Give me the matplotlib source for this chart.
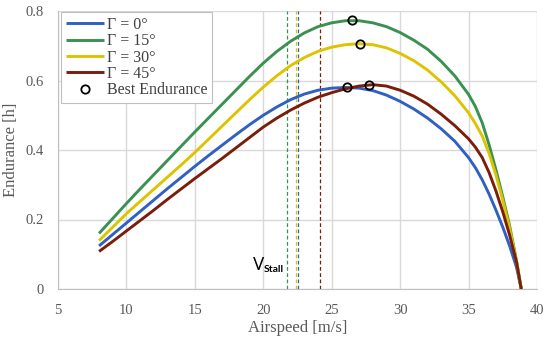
import matplotlib
matplotlib.use('Agg')
import matplotlib.pyplot as plt

# Airspeed samples [m/s] (1 m/s steps, then 0.5 m/s where the curves fall fast)
v_rise = [8, 9, 10, 11, 12, 13, 14, 15, 16, 17, 18, 19, 20, 21, 22, 23, 24, 25,
          26, 27, 28, 29, 30, 31, 32, 33, 34]
v_tail = [35, 35.5, 36, 36.5, 37, 37.5, 38, 38.5, 38.85]
airspeed = v_rise + v_tail

# Endurance [h] for each sweep angle
e_g0 = [0.124, 0.157, 0.190, 0.223, 0.256, 0.289, 0.321, 0.353, 0.384, 0.414, 0.444, 0.473, 0.500,
        0.524, 0.545, 0.561, 0.572, 0.578, 0.580, 0.578, 0.571, 0.558, 0.540, 0.518, 0.492, 0.461, 0.425,
        0.378, 0.349, 0.314, 0.273, 0.227, 0.178, 0.124, 0.063, 0.0]
e_g15 = [0.160, 0.203, 0.246, 0.288, 0.329, 0.370, 0.411, 0.452, 0.492, 0.532, 0.572, 0.612, 0.650,
         0.684, 0.713, 0.737, 0.755, 0.766, 0.772, 0.772, 0.766, 0.755, 0.738, 0.716, 0.690, 0.655, 0.613,
         0.560, 0.525, 0.478, 0.415, 0.343, 0.265, 0.182, 0.082, 0.0]
e_g30 = [0.139, 0.178, 0.217, 0.252, 0.287, 0.322, 0.357, 0.393, 0.431, 0.469, 0.507, 0.545, 0.581,
         0.614, 0.643, 0.666, 0.684, 0.696, 0.703, 0.706, 0.703, 0.694, 0.678, 0.657, 0.630, 0.596, 0.556,
         0.507, 0.476, 0.440, 0.390, 0.328, 0.255, 0.175, 0.080, 0.0]
e_g45 = [0.108, 0.137, 0.167, 0.197, 0.227, 0.258, 0.288, 0.318, 0.347, 0.376, 0.406, 0.436, 0.466,
         0.492, 0.515, 0.535, 0.552, 0.565, 0.576, 0.584, 0.588, 0.584, 0.572, 0.555, 0.532, 0.503, 0.470,
         0.432, 0.408, 0.378, 0.335, 0.282, 0.222, 0.155, 0.078, 0.0]

# best endurance points, order: 0, 15, 30, 45 deg
best_v = [26.1, 26.45, 27.06, 27.7]
best_e = [0.580, 0.773, 0.706, 0.588]

# stall speeds (dashed lines), order: 0, 15, 30, 45 deg
stall_v = [22.55, 21.7, 22.36, 24.16]

labels = ['Γ = 0°', 'Γ = 15°', 'Γ = 30°', 'Γ = 45°']
colors = ['#2f60c2', '#3a9150', '#dcc500', '#7a1e0a']

plt.rcParams['font.family'] = 'Liberation Serif'

fig = plt.figure(figsize=(5.5, 3.41), dpi=100)
ax = fig.add_axes([58/550, 52/341, 479/550, 278/341])

for vs, c in zip(stall_v, colors):
    ax.plot([vs, vs], [0, 0.8], color=c, lw=0.9, ls=(0, (3, 2)), zorder=2)

for e, lab, c in zip([e_g0, e_g15, e_g30, e_g45], labels, colors):
    ax.plot(airspeed, e, color=c, lw=2.1, label=lab, zorder=3,
            solid_joinstyle='round', solid_capstyle='butt')

ax.plot(best_v, best_e, ls='none', marker='o', ms=6, mfc='none', mec='black',
        mew=1.3, label='Best Endurance', zorder=4)

ax.text(19.26, 0.055, 'V', fontsize=12, family='Lato', ha='left', va='baseline')
ax.text(20.0, 0.05, 'Stall', fontsize=7.5, family='Lato', weight='bold', ha='left', va='baseline')

ax.set_xlim(5, 40)
ax.set_ylim(0, 0.8)
ax.set_xticks([5, 10, 15, 20, 25, 30, 35, 40])
ax.set_xticklabels(['5', '10', '15', '20', '25', '30', '35', '40'])
ax.set_yticks([0, 0.2, 0.4, 0.6, 0.8])
ax.set_yticklabels(['0', '0.2', '0.4', '0.6', '0.8'])
ax.tick_params(length=0, labelsize=10.5, labelcolor='#595959')
ax.tick_params(axis='x', pad=11)
ax.tick_params(axis='y', pad=10)
ax.grid(True, color='#d9d9d9', lw=1)
ax.set_axisbelow(True)
for side in ['top', 'right']:
    ax.spines[side].set_visible(False)
for side in ['left', 'bottom']:
    ax.spines[side].set_color('#bfbfbf')

ax.set_xlabel('Airspeed [m/s]', fontsize=12, color='#595959', labelpad=2)
ax.set_ylabel('Endurance [h]', fontsize=12, color='#595959', labelpad=5)

leg = ax.legend(loc='upper left', bbox_to_anchor=(0.006, 0.996), borderaxespad=0,
                prop={'size': 11.5}, labelspacing=0.02,
                handlelength=2.4, handletextpad=0.2, borderpad=0.3, fancybox=False,
                framealpha=1, edgecolor='#bfbfbf')
leg.get_frame().set_linewidth(0.8)
for t in leg.get_texts():
    t.set_color('#404040')

fig.savefig('out.png', dpi=100)
